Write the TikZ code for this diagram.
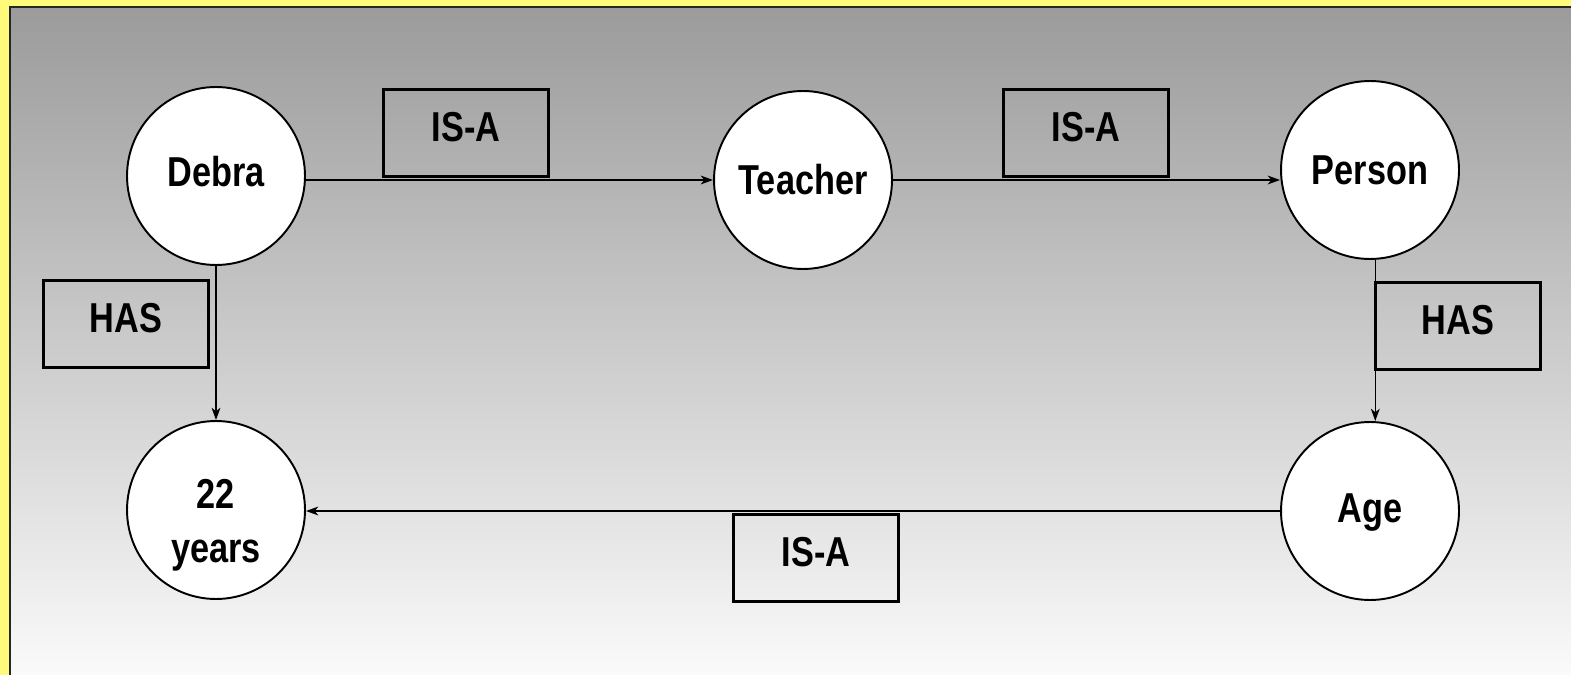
\documentclass[tikz,border=0pt]{standalone}
\usepackage{fontspec}
\setmainfont{Liberation Sans}[FakeStretch=0.82]
\usetikzlibrary{arrows.meta}
\definecolor{ylw}{RGB}{255,250,122}
\definecolor{gtop}{RGB}{155,155,155}
\definecolor{gbot}{RGB}{250,250,250}
\tikzset{
  px/.style={x=0.02cm,y=-0.02cm},
  concept/.style={circle,draw=black,line width=1.1pt,fill=white,minimum size=3.56cm,inner sep=0pt,font=\fontsize{23.8pt}{31pt}\selectfont\bfseries,align=center},
  relbox/.style={rectangle,draw=black,line width=1.3pt,minimum width=3.3cm,minimum height=1.74cm,inner sep=0pt,text depth=0.24cm,font=\fontsize{23.8pt}{26pt}\selectfont\bfseries},
  arr/.style={draw=black,line width=0.8pt,-{Stealth[length=7pt,width=5pt,inset=2pt]}}
}
\begin{document}
\begin{tikzpicture}[px]
\useasboundingbox (0,0) rectangle (1571,675);
\fill[ylw] (0,0) rectangle (1571,675);
\shade[top color=gtop,bottom color=gbot] (10,7) rectangle (1571,675);
\draw[line width=1.4pt,black!85] (10,675) -- (10,7) -- (1571,7);

\node[concept,text depth=0.2cm] (debra) at (216,176) {Debra};
\node[concept] (teacher) at (803,180) {Teacher};
\node[concept] (person) at (1370,170) {Person};
\node[concept] (years) at (216,510) {\rule{0pt}{1.2cm}22\\years};
\node[concept,text depth=0.1cm] (age) at (1370,511) {Age};

\node[relbox] (r1) at (466,133) {IS-A};
\node[relbox] (r2) at (1086,133) {IS-A};
\node[relbox] (r3) at (126,324) {HAS};
\node[relbox] (r4) at (1458,326) {HAS};
\node[relbox] (r5) at (816,558) {IS-A};

\draw[arr] (debra.east |- teacher.west) -- (teacher.west);
\draw[arr] (teacher.east) -- (person.west |- teacher.east);
\draw[arr] (debra.south) -- (years.north);
\draw[arr] ([xshift=3]person.south) -- ([xshift=3]age.north);
\draw[arr] (age.west) -- (years.east |- age.west);
\end{tikzpicture}
\end{document}
